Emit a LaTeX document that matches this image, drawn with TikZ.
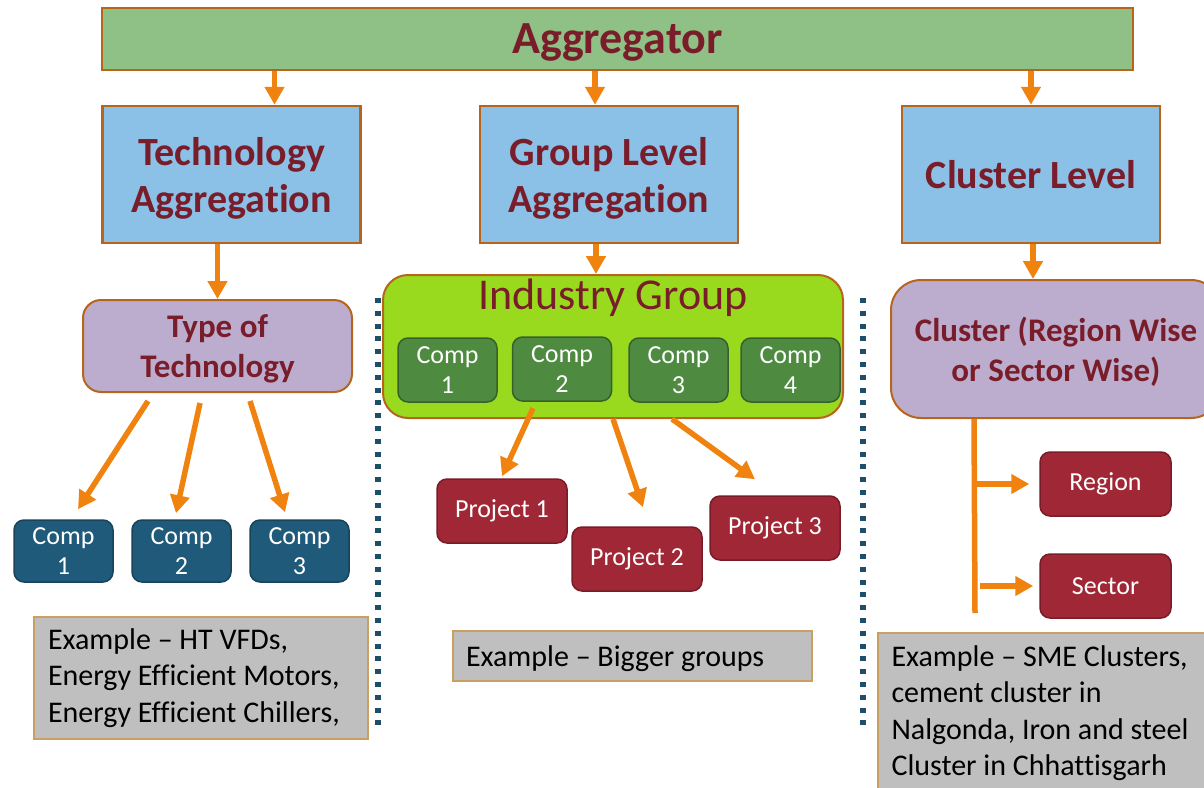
\documentclass[tikz,border=0pt]{standalone}
\usepackage{fontspec}
\setmainfont{Carlito}[Ligatures={TeX,NoCommon}]
\usetikzlibrary{arrows.meta}
\definecolor{aggfill}{HTML}{8FC085}
\definecolor{boxline}{HTML}{B7651C}
\definecolor{headblue}{HTML}{8BC1E6}
\definecolor{headtext}{HTML}{7A1D2A}
\definecolor{lilac}{HTML}{BCADCF}
\definecolor{lime}{HTML}{99DA1E}
\definecolor{compgreen}{HTML}{4E8A3F}
\definecolor{compblue}{HTML}{1F5A7B}
\definecolor{projred}{HTML}{A02735}
\definecolor{arrorange}{HTML}{F0820F}
\definecolor{sepblue}{HTML}{1F4E6B}
\definecolor{notegrey}{HTML}{BFBFBF}
\definecolor{notetan}{HTML}{C9A062}
\begin{document}
\begin{tikzpicture}[x=1pt,y=-1pt,
    head/.style={draw=boxline,line width=2.5pt,fill=headblue,text=headtext,
      font=\bfseries\fontsize{40}{47}\selectfont,align=center,text depth=0pt,
      minimum width=258pt,minimum height=137pt},
    kind/.style={draw=boxline,line width=2pt,fill=lilac,text=headtext,rounded corners=18pt,
      font=\bfseries\fontsize{33}{40}\selectfont,align=center,text depth=0pt},
    tcomp/.style={draw=compblue!75!black,line width=1.5pt,fill=compblue,text=white,rounded corners=10pt,
      font=\fontsize{26}{30}\selectfont,align=center,minimum width=99pt,minimum height=62pt},
    gcomp/.style={tcomp,draw=compgreen!70!black,fill=compgreen,minimum height=64pt},
    proj/.style={draw=projred!75!black,line width=1.5pt,fill=projred,text=white,rounded corners=10pt,
      font=\fontsize{26}{30}\selectfont,minimum width=130pt,minimum height=64pt},
    note/.style={draw=notetan,line width=2pt,fill=notegrey,align=left,
      font=\fontsize{30}{36.5}\selectfont,
      execute at begin node={\spaceskip=0pt\xspaceskip=0pt\relax}},
    arr/.style={draw=arrorange,line width=5.5pt,-{Triangle[width=19pt,length=18pt]}},
    link/.style={draw=arrorange,line width=5.5pt},
    sep/.style={draw=sepblue,line width=6pt,dash pattern=on 5pt off 7.8pt}]
  \clip (0,0) rectangle (1204,787);
  % top row
  \node[head,fill=aggfill,minimum width=1031pt,minimum height=62pt,font=\bfseries\fontsize{46}{50}\selectfont]
    (agg) at (617.5,39) {Aggregator};
  \node[head] (tech) at (231.5,174.5) {Technology\\Aggregation};
  \node[head] (grp) at (609,174.5) {Group Level\\Aggregation};
  \node[head] (clv) at (1031,174.5) {Cluster Level};
  % technology branch
  \node[kind,minimum width=269pt,minimum height=92pt] (ttype) at (217.5,346) {Type of\\Technology};
  \node[tcomp] (tc1) at (63.5,551) {Comp\\1};
  \node[tcomp] (tc2) at (181.5,551) {Comp\\2};
  \node[tcomp] (tc3) at (299.5,551) {Comp\\3};
  % group branch
  \node[draw=boxline,line width=2pt,fill=lime,rounded corners=25pt,minimum width=460pt,minimum height=143pt]
    (ig) at (613,346.5) {};
  \node[text=headtext,font=\fontsize{44}{48}\selectfont,anchor=base] (igt) at (613,309) {Industry Group};
  \node[gcomp] (gc1) at (447.5,370) {Comp\\1};
  \node[gcomp] (gc2) at (562,369) {Comp\\2};
  \node[gcomp] (gc3) at (678.5,370) {Comp\\3};
  \node[gcomp] (gc4) at (790.5,370) {Comp\\4};
  \node[proj] (pr1) at (502,511) {Project 1};
  \node[proj] (pr2) at (637,559) {Project 2};
  \node[proj] (pr3) at (775,528) {Project 3};
  % cluster branch
  \node[kind,rounded corners=30pt,minimum width=330pt,minimum height=138pt] (cls) at (1056,349)
    {Cluster (Region Wise\\or Sector Wise)};
  \node[proj,minimum width=131pt] (reg) at (1105.5,484) {Region};
  \node[proj,minimum width=131pt] (sec) at (1105.5,586) {Sector};
  \coordinate (cbot) at (975,613);
  % examples
  \node[note,minimum width=334pt,minimum height=122pt,text width=306pt] (exl) at (201,678)
    {Example -- HT VFDs,\\Energy Efficient Motors,\\Energy Efficient Chillers,};
  \node[note,minimum width=359pt,minimum height=50pt,text width=333pt,text depth=0pt] (exm) at (632.5,656)
    {Example -- Bigger groups};
  \node[note,anchor=north west,minimum width=345pt,minimum height=160pt,text width=318pt,
    inner xsep=13pt] (exr) at (877,632)
    {Example -- SME Clusters,\\cement cluster in\\Nalgonda, Iron and steel\\Cluster in Chhattisgarh};
  % dividers
  \draw[sep] (378,298) -- (378,730);
  \draw[sep] (863,298) -- (863,730);
  % connectors
  \draw[arr] ([xshift=43pt]tech.north |- agg.south) -- ([xshift=43pt]tech.north);
  \draw[arr] ([xshift=-14pt]grp.north |- agg.south) -- ([xshift=-14pt]grp.north);
  \draw[arr] (clv.north |- agg.south) -- (clv.north);
  \draw[arr] (ttype.north |- tech.south) -- (ttype.north);
  \draw[arr] ([xshift=-69.5pt,yshift=-8pt]ttype.south) -- ([xshift=14.5pt,yshift=10pt]tc1.north);
  \draw[arr] ([xshift=-17.5pt,yshift=-10pt]ttype.south) -- ([xshift=-5.5pt,yshift=6pt]tc2.north);
  \draw[arr] ([xshift=32.5pt,yshift=-8pt]ttype.south) -- ([xshift=-14.5pt,yshift=7pt]tc3.north);
  \draw[arr] ([xshift=-17pt]ig.north |- grp.south) -- ([xshift=-17pt]ig.north);
  \draw[arr] ([xshift=-29pt,yshift=-6.5pt]gc2.south) -- ([yshift=2pt]pr1.north);
  \draw[arr] (ig.south) -- ([xshift=6pt,yshift=19pt]pr2.north);
  \draw[arr] ([xshift=59pt]ig.south) -- ([xshift=-20pt,yshift=16pt]pr3.north);
  \draw[arr] ([xshift=2pt]clv.south) -- ([xshift=2pt]clv.south |- cls.north);
  \draw[link] ([xshift=84pt]cls.south west) -- (cbot);
  \draw[arr] (reg.west -| cbot) -- ([xshift=-10pt]reg.west);
  \draw[arr] ([xshift=5pt]sec.west -| cbot) -- ([xshift=-6pt]sec.west);
\end{tikzpicture}
\end{document}
